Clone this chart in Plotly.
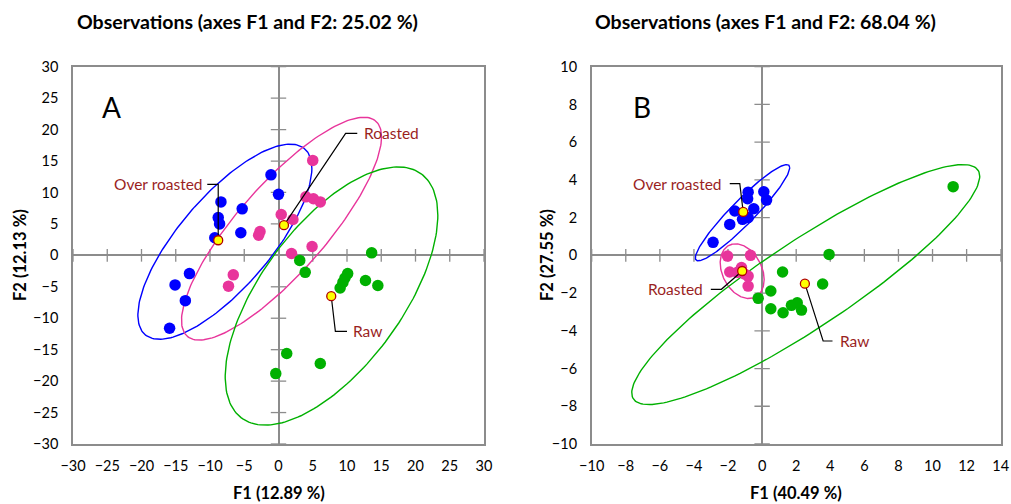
import numpy as np
import plotly.graph_objects as go

# ---------------- data: panel A ----------------
a_over_x = [-1.1, 0.0, -8.4, -5.3, -8.8, -8.6, -5.5, -9.3, -13.0, -15.1, -13.6, -15.9]
a_over_y = [12.8, 9.7, 8.5, 7.4, 6.0, 5.0, 3.6, 2.8, -2.9, -4.7, -7.2, -11.6]
a_roast_x = [5.0, 4.0, 5.1, 6.1, 0.4, 2.1, -2.7, -2.9, 4.9, 1.9, -6.6, -7.3]
a_roast_y = [15.1, 9.3, 9.0, 8.5, 6.5, 5.7, 3.8, 3.2, 1.4, 0.3, -3.1, -4.9]
a_raw_x = [13.6, 3.1, 3.9, 10.1, 9.7, 9.4, 9.0, 12.7, 14.5, 1.2, 6.1, -0.4]
a_raw_y = [0.4, -0.8, -2.7, -2.9, -3.6, -4.3, -5.2, -4.0, -4.8, -15.6, -17.2, -18.8]
a_cent_x = [-8.8, 0.8, 7.7]
a_cent_y = [2.4, 4.8, -6.5]
# ellipse: centre x, centre y, half x-extent, y at rightmost point, half y-extent
a_ell_over = [-7.83, 2.17, 12.70, 11.67, 15.52]
a_ell_roast = [0.44, 4.24, 14.6, 14.59, 17.72]
a_ell_raw = [7.74, -6.47, 15.52, 12.84, 20.53]
# leader lines (label anchor -> elbow -> centroid)
a_lead_over = ([-10.4, -8.8, -8.8], [11.3, 11.3, 2.4])
a_lead_roast = ([11.5, 9.8, 0.8], [19.4, 19.4, 4.8])
a_lead_raw = ([10.0, 8.3, 7.7], [-12.1, -12.1, -6.5])
a_labels = [("Over roasted", -10.8, 11.3, "right"), ("Roasted", 12.2, 19.4, "left"), ("Raw", 10.6, -12.1, "left")]
a_xticks = list(range(-30, 31, 5))
a_yticks = list(range(-30, 31, 5))

# ---------------- data: panel B ----------------
b_over_x = [-0.82, -0.85, 0.10, 0.26, -0.49, -1.60, -1.15, -0.82, -1.90, -2.88]
b_over_y = [3.35, 3.0, 3.37, 2.93, 2.47, 2.35, 1.91, 2.0, 1.64, 0.69]
b_roast_x = [-2.03, -0.68, -1.90, -1.21, -0.82, -0.82, -1.0, -1.45]
b_roast_y = [-0.04, 0.0, -0.88, -0.65, -1.10, -1.63, -1.0, -0.9]
b_raw_x = [3.93, 1.20, 3.55, 0.51, -0.23, 0.51, 1.23, 1.72, 2.06, 2.31, 11.21]
b_raw_y = [0.05, -0.88, -1.52, -1.89, -2.28, -2.83, -3.04, -2.65, -2.51, -2.90, 3.64]
b_cent_x = [-1.11, -1.17, 2.51]
b_cent_y = [2.30, -0.83, -1.50]
b_ell_over = [-1.15, 2.26, 2.77, 2.39, 2.55]
b_ell_roast = [-1.17, -0.84, 1.29, -0.44, 1.45]
b_ell_raw = [2.56, -1.55, 10.21, 5.74, 6.36]
b_lead_over = ([-1.90, -1.31, -1.11], [3.80, 3.80, 2.30])
b_lead_roast = ([-3.01, -2.39, -1.17], [-1.80, -1.80, -0.83])
b_lead_raw = ([4.13, 3.58, 2.51], [-4.54, -4.54, -1.50])
b_labels = [("Over roasted", -2.25, 3.80, "right"), ("Roasted", -3.35, -1.80, "right"), ("Raw", 4.45, -4.54, "left")]
b_xticks = list(range(-10, 15, 2))
b_yticks = list(range(-10, 11, 2))

titles = ["Observations (axes F1 and F2: 25.02 %)", "Observations (axes F1 and F2: 68.04 %)"]
xtitles = ["F1 (12.89 %)", "F1 (40.49 %)"]
ytitles = ["F2 (12.13 %)", "F2 (27.55 %)"]
panel_letters = ["A", "B"]

BLUE = "#0000FF"
PINK = "#E8359B"
GREEN = "#00B000"
LABEL = "#9A1F1F"
AXC = "#8C8C8C"
FONT = "Lato, 'Open Sans', sans-serif"

# the page body margin is removed in post_script, so the figure fills the window
OFF = 0
W, H = 1011, 504


def px(X):
    return (X - OFF) / W


def py(Y):
    return 1 - (Y - OFF) / H


fig = go.Figure()


def ellipse(p):
    cx, cy, xm, pr, ym = p
    q = np.sqrt(max(ym ** 2 - pr ** 2, 0))
    t = np.linspace(0, 2 * np.pi, 200)
    return cx + xm * np.cos(t), cy + pr * np.cos(t) + q * np.sin(t)


def add_panel(xa, ya, pts, ells, leads, cents, labels, xticks, yticks):
    # tick marks on zero axes
    fig.add_trace(go.Scatter(x=[v for v in xticks if v != 0], y=[0] * (len(xticks) - 1), mode="markers",
                             marker=dict(symbol="line-ns", size=9, line=dict(color=AXC, width=1.3)),
                             xaxis=xa, yaxis=ya, hoverinfo="skip", showlegend=False))
    fig.add_trace(go.Scatter(x=[0] * (len(yticks) - 1), y=[v for v in yticks if v != 0], mode="markers",
                             marker=dict(symbol="line-ew", size=11, line=dict(color=AXC, width=1.3)),
                             xaxis=xa, yaxis=ya, hoverinfo="skip", showlegend=False))
    for p, c in zip(ells, [BLUE, PINK, GREEN]):
        ex, ey = ellipse(p)
        fig.add_trace(go.Scatter(x=ex, y=ey, mode="lines", line=dict(color=c, width=1.4),
                                 xaxis=xa, yaxis=ya, hoverinfo="skip", showlegend=False))
    for (qx, qy), c in zip(pts, [BLUE, PINK, GREEN]):
        fig.add_trace(go.Scatter(x=qx, y=qy, mode="markers", marker=dict(color=c, size=11.5),
                                 xaxis=xa, yaxis=ya, showlegend=False))
    for lx, ly in leads:
        fig.add_trace(go.Scatter(x=lx, y=ly, mode="lines", line=dict(color="black", width=1.2),
                                 xaxis=xa, yaxis=ya, hoverinfo="skip", showlegend=False))
    fig.add_trace(go.Scatter(x=cents[0], y=cents[1], mode="markers",
                             marker=dict(color="#FFFF00", size=9, line=dict(color="#B00000", width=1.3)),
                             xaxis=xa, yaxis=ya, showlegend=False))
    for txt, x, y, anc in labels:
        fig.add_annotation(x=x, y=y, xref=xa, yref=ya, text=txt, showarrow=False, xanchor=anc,
                           yanchor="middle", font=dict(family=FONT, size=15.5, color=LABEL))


add_panel("x", "y", [(a_over_x, a_over_y), (a_roast_x, a_roast_y), (a_raw_x, a_raw_y)],
          [a_ell_over, a_ell_roast, a_ell_raw], [a_lead_over, a_lead_roast, a_lead_raw],
          (a_cent_x, a_cent_y), a_labels, a_xticks, a_yticks)
add_panel("x2", "y2", [(b_over_x, b_over_y), (b_roast_x, b_roast_y), (b_raw_x, b_raw_y)],
          [b_ell_over, b_ell_roast, b_ell_raw], [b_lead_over, b_lead_roast, b_lead_raw],
          (b_cent_x, b_cent_y), b_labels, b_xticks, b_yticks)

ydom = [py(444), py(66.7)]
axis_common = dict(showline=True, mirror=True, linecolor=AXC, linewidth=1.5, showgrid=False,
                   zeroline=True, zerolinecolor=AXC, zerolinewidth=1.5, ticks="", automargin=False,
                   tickfont=dict(family=FONT, size=14.5, color="black"))
fig.update_layout(
    width=W, height=H, margin=dict(l=0, r=0, t=0, b=0, autoexpand=False),
    paper_bgcolor="white", plot_bgcolor="white",
    xaxis=dict(domain=[px(73), px(484)], range=[-30, 30], tickvals=a_xticks, ticklabelstandoff=8, anchor="y", **axis_common),
    yaxis=dict(domain=ydom, range=[-30, 30], tickvals=a_yticks, ticklabelstandoff=10, anchor="x", **axis_common),
    xaxis2=dict(domain=[px(591.7), px(1000.7)], range=[-10, 14], tickvals=b_xticks, ticklabelstandoff=8, anchor="y2", **axis_common),
    yaxis2=dict(domain=ydom, range=[-10, 10], tickvals=b_yticks, ticklabelstandoff=10, anchor="x2", **axis_common),
)

for i, (cx, fx) in enumerate([(247, 279), (765, 796)]):
    fig.add_annotation(x=px(cx), y=py(22), xref="paper", yref="paper", text="<b>" + titles[i] + "</b>",
                       showarrow=False, xanchor="center", yanchor="middle",
                       font=dict(family=FONT, size=19.5, color="black"))
    fig.add_annotation(x=px(fx), y=py(493), xref="paper", yref="paper", text="<b>" + xtitles[i] + "</b>",
                       showarrow=False, xanchor="center", yanchor="middle",
                       font=dict(family=FONT, size=16.5, color="black"))
ylab_x = [20, 547]
for i in range(2):
    fig.add_annotation(x=px(ylab_x[i]), y=py(255), xref="paper", yref="paper", text="<b>" + ytitles[i] + "</b>",
                       showarrow=False, textangle=-90, xanchor="center", yanchor="middle",
                       font=dict(family=FONT, size=16.5, color="black"))
letter_pos = [(111, 107), (642, 107)]
for i, (lx, ly) in enumerate(letter_pos):
    fig.add_annotation(x=px(lx), y=py(ly), xref="paper", yref="paper", text=panel_letters[i],
                       showarrow=False, xanchor="center", yanchor="middle",
                       font=dict(family=FONT, size=28, color="black"))

fig.write_html("out.html", config={"displayModeBar": False},
               post_script="document.body.style.margin='0px';document.body.style.overflow='hidden';")
